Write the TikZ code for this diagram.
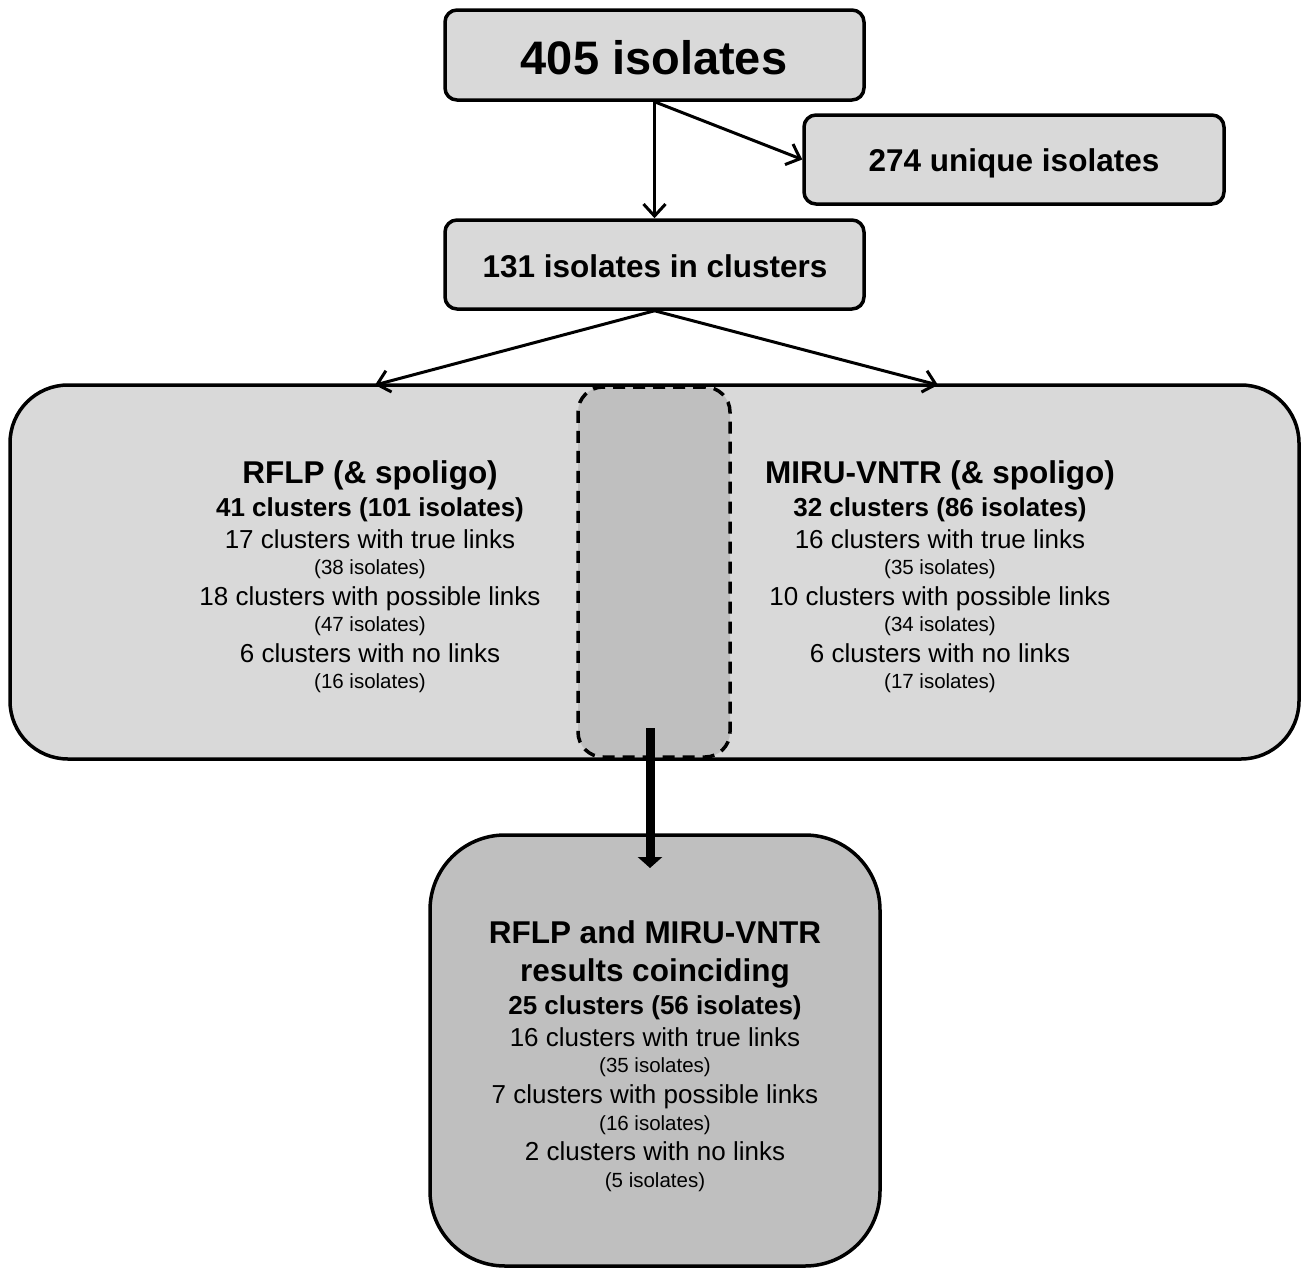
\documentclass[tikz,border=0pt]{standalone}
\usepackage{fontspec}
\setmainfont{Liberation Sans}
\usetikzlibrary{arrows.meta}
\definecolor{lg}{HTML}{D9D9D9}
\definecolor{dg}{HTML}{BFBFBF}
\begin{document}
\begin{tikzpicture}[x=1pt,y=-1pt,
  box/.style={draw=black,line width=3.5pt,fill=lg,rounded corners=#1,inner sep=0pt},
  box/.default=12pt,
  thin/.style={line width=3pt,-{Straight Barb[length=12pt,width=22pt,line width=3pt]}},
  fh/.style={anchor=base,inner sep=0pt,font=\fontsize{31.5}{36}\selectfont\bfseries},
  fb/.style={anchor=base,inner sep=0pt,font=\fontsize{26}{30}\selectfont\bfseries},
  fr/.style={anchor=base,inner sep=0pt,font=\fontsize{26}{30}\selectfont},
  fs/.style={anchor=base,inner sep=0pt,font=\fontsize{20.5}{24}\selectfont}]
\useasboundingbox (0,0) rectangle (1302,1269);
% boxes
\node[box,minimum width=419pt,minimum height=90pt] (A) at (654.5,55) {};
\node[box,minimum width=420pt,minimum height=89pt] (B) at (1014,159.5) {};
\node[box,minimum width=419pt,minimum height=89pt] (C) at (654.5,264.5) {};
\node[box=58pt,minimum width=1289pt,minimum height=374pt] (D) at (654.5,572) {};
\node[draw=black,line width=3.5pt,dash pattern=on 12pt off 8pt,fill=dg,rounded corners=25pt,minimum width=152pt,minimum height=370pt,inner sep=0pt] (E) at (654,572) {};
\node[box=75pt,fill=dg,minimum width=450pt,minimum height=431pt] (F) at (655,1050.5) {};
% texts
\node[anchor=base,inner sep=0pt,font=\fontsize{47}{54}\selectfont\bfseries] (tA) at (654,74) {405 isolates};
\node[anchor=base,inner sep=0pt,font=\fontsize{31.5}{36}\selectfont\bfseries] (tB) at (1014,171) {274 unique isolates};
\node[anchor=base,inner sep=0pt,font=\fontsize{31.5}{36}\selectfont\bfseries] (tC) at (655,277) {131 isolates in clusters};
% left column
\node[fh] (l1) at (370,483) {RFLP (\& spoligo)};
\node[fb] (l2) at (370,516) {41 clusters (101 isolates)};
\node[fr] (l3) at (370,548) {17 clusters with true links};
\node[fs] (l4) at (370,574) {(38 isolates)};
\node[fr] (l5) at (370,605) {18 clusters with possible links};
\node[fs] (l6) at (370,631) {(47 isolates)};
\node[fr] (l7) at (370,662) {6 clusters with no links};
\node[fs] (l8) at (370,688) {(16 isolates)};
% right column
\node[fh] (r1) at (940,483) {MIRU-VNTR (\& spoligo)};
\node[fb] (r2) at (940,516) {32 clusters (86 isolates)};
\node[fr] (r3) at (940,548) {16 clusters with true links};
\node[fs] (r4) at (940,574) {(35 isolates)};
\node[fr] (r5) at (940,605) {10 clusters with possible links};
\node[fs] (r6) at (940,631) {(34 isolates)};
\node[fr] (r7) at (940,662) {6 clusters with no links};
\node[fs] (r8) at (940,688) {(17 isolates)};
% bottom
\node[fh] (b1) at (655,943) {RFLP and MIRU-VNTR};
\node[fh] (b2) at (655,981) {results coinciding};
\node[fb] (b3) at (655,1014) {25 clusters (56 isolates)};
\node[fr] (b4) at (655,1046) {16 clusters with true links};
\node[fs] (b5) at (655,1072) {(35 isolates)};
\node[fr] (b6) at (655,1103) {7 clusters with possible links};
\node[fs] (b7) at (655,1130) {(16 isolates)};
\node[fr] (b8) at (655,1160) {2 clusters with no links};
\node[fs] (b9) at (655,1187) {(5 isolates)};
% connectors
\coordinate (dl) at (375,385);
\coordinate (dr) at (938,385);
\coordinate (es) at (650,728);
\coordinate (ft) at (650,868);
\draw[thin] (A.south) -- (C.north);
\draw[thin] (A.south) -- (B.west);
\draw[thin] (C.south) -- (dl);
\draw[thin] (C.south) -- (dr);
\draw[line width=9pt,-{Triangle[length=11pt,width=24pt]}] (es) -- (ft);
\end{tikzpicture}
\end{document}
